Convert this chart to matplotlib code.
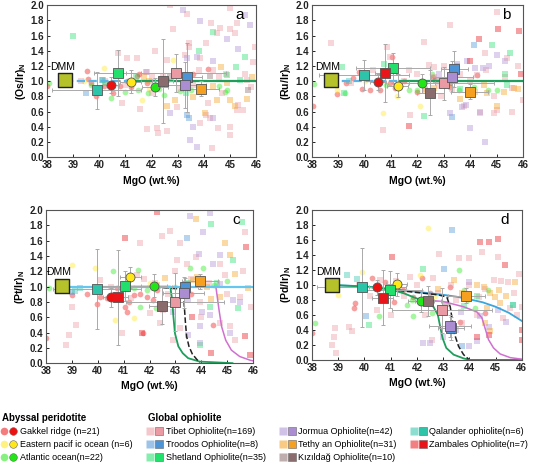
import matplotlib
matplotlib.use("Agg")
import matplotlib.pyplot as plt
from matplotlib.lines import Line2D
from matplotlib.legend_handler import HandlerTuple

plt.rcParams['font.family'] = ['Liberation Sans', 'DejaVu Sans']
plt.rcParams['mathtext.fontset'] = 'custom'
plt.rcParams['mathtext.bf'] = 'Liberation Sans:bold'
plt.rcParams['mathtext.rm'] = 'Liberation Sans'

# groups (order is shared by all mean lists below)
groups = ['gakkel', 'epr', 'atlantic', 'tibet', 'troodos', 'shetland',
          'jormua', 'tethyan', 'kizildag', 'qalander', 'zambales']
group_labels = ['Gakkel ridge (n=21)', 'Eastern pacif ic ocean (n=6)', 'Atlantic ocean(n=22)',
                'Tibet Ophiolite(n=169)', 'Troodos Ophiolite(n=8)', 'Shetland Ophiolite(n=35)',
                'Jormua Ophiolite(n=42)', 'Tethy an Ophiolite(n=31)', 'Kızıldağ Ophiolite(n=10)',
                'Qalander ophiolite(n=6)', 'Zambales Ophiolite(n=7)']
group_colors = ['#ee1111', '#ffe81a', '#22e615', '#ea9aa2', '#4d94d6', '#22e06c',
                '#ab8ed2', '#f5a020', '#8a6c6c', '#2ec4aa', '#e8161b']
group_markers = ['o', 'o', 'o', 's', 's', 's', 's', 's', 's', 's', 's']

dmm_x = [38.7, 38.72, 38.6, 38.76]
dmm_y = [1.01, 1.01, 1.01, 1.0]

# ---- panel a : (Os/Ir)N ----
a_tibet = [(42.71, 2.0), (43.34, 1.88), (44.26, 1.76), (44.62, 1.70), (45.0, 1.68), (45.19, 1.63),
           (45.26, 1.76), (45.0, 1.96), (45.96, 1.45), (45.58, 1.1), (44.49, 1.63), (44.1, 1.5),
           (43.43, 1.5), (42.83, 1.69), (40.73, 1.37), (41.43, 1.3), (41.05, 1.31), (42.13, 1.39),
           (42.58, 1.28), (42.45, 1.06), (42.0, 1.06), (41.81, 1.12), (43.85, 1.3), (44.36, 1.15),
           (44.87, 1.1), (45.64, 1.02), (44.17, 0.71), (44.1, 0.56), (44.24, 0.51), (45.0, 0.4),
           (45.0, 0.29), (44.56, 0.38), (43.85, 0.45), (42.2, 0.38), (42.26, 0.32), (42.58, 0.34),
           (41.81, 0.37), (44.3, 0.12), (45.26, 0.62), (45.32, 0.69), (45.5, 0.62), (41.56, 0.64),
           (40.86, 0.71), (42.96, 0.66), (43.1, 0.9), (43.6, 0.95), (41.0, 0.95), (40.2, 1.0),
           (39.3, 1.0), (43.45, 1.45), (44.6, 1.05), (45.8, 0.92), (45.9, 1.25), (43.8, 1.15),
           (42.9, 1.1), (43.3, 1.35), (42.0, 0.85), (44.7, 0.85)]
a_gakkel = [(38.0, 0.93), (39.54, 1.13), (39.55, 1.03), (39.87, 0.8), (40.54, 0.85), (40.18, 0.94),
            (41.46, 1.07), (41.53, 1.09), (41.81, 0.97), (42.2, 0.92), (43.6, 1.09), (44.17, 1.16),
            (41.05, 1.0), (39.7, 0.97), (40.8, 0.93), (41.2, 0.92), (42.6, 1.02), (43.2, 0.96)]
a_epr = [(40.19, 1.17), (42.83, 1.28), (41.62, 0.75), (39.4, 1.0), (41.9, 0.9)]
a_atlantic = [(38.08, 0.98), (40.45, 0.78), (41.5, 0.88), (41.88, 0.84), (42.49, 0.82), (43.5, 0.88),
              (44.91, 0.88), (44.6, 0.93), (43.8, 0.92), (39.7, 0.95), (41.0, 0.86), (42.3, 0.9),
              (43.1, 0.87), (44.8, 0.86)]
a_shetland = [(39.0, 1.59), (44.36, 1.64), (43.83, 1.39), (45.23, 1.19), (45.58, 1.32), (44.88, 1.08),
              (45.39, 1.02), (43.32, 0.85), (41.4, 1.05), (40.2, 0.98)]
a_jormua = [(43.19, 1.94), (43.85, 1.79), (45.77, 1.74), (45.58, 1.87), (44.88, 1.56), (44.36, 1.26),
            (43.75, 1.32), (43.73, 0.14), (43.47, 0.23), (44.36, 0.51), (42.71, 0.58), (43.6, 0.4),
            (41.8, 1.12), (43.35, 1.3), (45.3, 1.42)]
a_tethyan = [(42.9, 0.75), (42.58, 0.67), (44.49, 0.75), (45.0, 0.75), (44.05, 0.58), (45.64, 0.77),
             (45.19, 0.67), (45.83, 1.06), (44.68, 1.19), (44.36, 0.93), (41.9, 1.0), (43.6, 0.79),
             (44.9, 0.97), (41.7, 1.05)]
a_troodos = [(43.34, 0.55), (43.45, 0.52), (40.1, 1.02), (39.5, 0.84)]
a_kizildag = [(45.7, 0.88), (44.24, 1.07), (42.7, 1.05)]
a_qalander = [(40.16, 1.02), (39.9, 0.84)]
a_zambales = []

a_mean_x = [40.45, 41.2, 42.12, 42.94, 43.34, 40.7, 43.28, 43.9, 42.43, 39.9, None]
a_mean_y = [0.95, 0.99, 0.92, 1.11, 1.05, 1.11, 0.95, 0.9, 1.0, 0.88, None]
a_xerr = [0.3, 0.4, 0.5, 1.9, 0.6, 0.9, 0.8, 0.7, 0.4, 1.7, None]
a_yerr = [0.1, 0.15, 0.12, 0.25, 0.45, 0.3, 0.3, 0.1, 0.55, 0.24, None]

a_blue_x = [38.7, 41.3]
a_blue_y = [1.0, 1.0]
a_green_x = [41.3, 46.0]
a_green_y = [1.0, 1.0]

# ---- panel b : (Ru/Ir)N ----
b_tibet = [(38.73, 1.5), (40.84, 1.45), (42.24, 1.52), (40.97, 1.32), (42.61, 1.19), (43.25, 1.74),
           (44.57, 1.37), (45.02, 1.91), (46.0, 0.75), (45.59, 0.91), (45.4, 1.3), (44.26, 1.08),
           (41.67, 1.15), (41.73, 0.56), (40.69, 0.36), (44.38, 0.58), (44.89, 0.58), (45.02, 0.62),
           (43.75, 0.67), (42.42, 1.21), (42.61, 1.06), (43.0, 1.2), (43.6, 1.1), (44.0, 1.0),
           (42.3, 0.9), (41.2, 1.2), (40.3, 1.15), (42.8, 0.93), (45.8, 1.2), (45.3, 1.05),
           (44.9, 0.8), (43.3, 0.9), (42.0, 1.1), (41.5, 1.0), (39.5, 0.98), (42.9, 0.8),
           (44.6, 1.15), (45.6, 0.6)]
b_gakkel = [(38.04, 0.67), (38.95, 0.83), (39.55, 1.04), (39.77, 1.12), (39.9, 0.9), (40.21, 0.89),
            (40.59, 0.89), (41.16, 0.91), (40.97, 0.97), (41.98, 0.86), (43.25, 0.92), (41.03, 1.32),
            (44.26, 1.08), (42.6, 1.05), (41.5, 1.0), (39.3, 0.98)]
b_epr = [(38.95, 0.88), (40.69, 0.58), (42.11, 0.67), (41.23, 0.8), (40.0, 1.0)]
b_atlantic = [(38.09, 0.96), (39.26, 0.85), (43.56, 0.88), (44.13, 0.92), (44.66, 0.88), (45.02, 0.89),
              (41.67, 0.89), (42.55, 1.1), (42.0, 0.88), (43.0, 0.95), (40.8, 0.95)]
b_shetland = [(39.14, 1.19), (40.72, 1.23), (44.83, 1.47), (45.33, 1.1), (45.52, 1.37), (45.4, 0.95),
              (42.24, 0.54), (39.2, 0.84), (43.6, 0.9)]
b_jormua = [(43.88, 1.26), (44.19, 1.17), (44.49, 1.17), (45.02, 1.34), (45.33, 1.26), (43.5, 1.23),
            (43.69, 0.66), (43.84, 0.69), (43.98, 0.38), (44.36, 0.59), (44.55, 0.2), (43.25, 0.58),
            (42.8, 1.1), (44.7, 1.2)]
b_tethyan = [(43.62, 0.77), (44.19, 0.86), (44.64, 0.84), (45.02, 0.67), (45.27, 0.86), (45.65, 0.91),
             (44.51, 0.95), (42.61, 0.91), (42.3, 0.88), (45.8, 0.9), (43.2, 0.95)]
b_troodos = [(43.31, 0.53), (44.16, 1.47), (43.5, 1.2)]
b_kizildag = [(43.2, 0.98), (42.7, 1.0)]
b_qalander = [(39.4, 1.0), (40.1, 1.05)]
b_zambales = [(44.0, 1.26), (44.32, 1.56), (45.04, 1.69), (45.84, 1.66), (45.94, 1.1), (41.67, 0.41)]

b_mean_x = [40.5, 41.25, 42.17, 42.99, 43.4, 41.07, 43.31, 43.98, 42.49, 39.98, 40.78]
b_mean_y = [0.99, 0.94, 0.97, 0.97, 1.16, 1.17, 1.06, 0.86, 0.85, 1.08, 1.11]
b_xerr = [0.3, 0.4, 0.5, 1.9, 0.5, 1.4, 0.8, 0.7, 0.5, 1.7, 0.4]
b_yerr = [0.1, 0.15, 0.12, 0.22, 0.24, 0.2, 0.2, 0.1, 0.3, 0.2, 0.38]

b_blue_x = [38.7, 41.3]
b_blue_y = [1.0, 1.0]
b_green_x = [41.3, 46.0]
b_green_y = [1.0, 1.0]

# ---- panel c : (Pt/Ir)N ----
c_tibet = [(41.63, 1.57), (42.47, 1.66), (42.79, 1.73), (43.17, 1.57), (45.68, 1.72), (44.71, 1.3),
           (43.81, 1.39), (43.43, 1.3), (43.04, 1.35), (40.09, 1.09), (40.67, 0.89), (38.87, 0.37),
           (38.78, 0.24), (39.0, 0.74), (39.16, 0.5), (40.93, 0.39), (42.4, 0.52), (42.92, 0.3),
           (43.17, 0.46), (43.94, 0.8), (44.71, 0.52), (45.1, 0.48), (45.93, 0.74), (45.48, 0.87),
           (42.2, 1.05), (41.8, 1.1), (42.7, 0.9), (43.6, 1.1), (44.3, 1.05), (45.0, 0.9),
           (45.6, 1.2), (41.3, 0.85), (42.5, 0.7), (44.0, 0.6), (45.3, 0.3), (41.5, 1.15),
           (44.9, 1.15), (43.0, 1.2), (42.0, 0.65), (40.5, 1.0)]
c_gakkel = [(38.0, 0.33), (39.0, 0.89), (39.6, 0.91), (39.96, 0.78), (40.09, 0.87), (40.35, 0.85),
            (40.73, 0.98), (41.06, 0.74), (41.38, 0.89), (41.63, 0.91), (41.89, 0.87), (42.15, 0.83),
            (41.12, 0.67), (41.76, 0.39), (44.46, 0.5), (43.6, 0.9), (41.2, 0.8), (42.3, 0.95)]
c_epr = [(39.0, 1.28), (39.9, 1.24), (40.67, 0.57), (41.38, 0.59), (42.0, 1.05)]
c_atlantic = [(38.13, 0.98), (40.57, 1.2), (41.57, 1.22), (41.63, 0.74), (42.24, 0.72), (43.56, 1.24),
              (44.07, 1.24), (44.97, 1.07), (41.38, 0.98), (41.9, 0.95), (43.0, 1.0), (44.5, 1.02)]
c_shetland = [(44.39, 1.82), (45.57, 1.85), (43.94, 0.24), (44.33, 0.74), (45.42, 0.72), (45.23, 1.35),
              (44.6, 1.05), (43.5, 1.05)]
c_jormua = [(43.56, 1.93), (44.35, 1.96), (44.07, 1.72), (44.71, 1.41), (44.46, 1.3), (43.92, 1.43),
            (44.71, 1.04), (43.49, 0.83), (43.94, 0.48), (44.01, 0.67), (44.35, 0.63), (45.23, 0.83),
            (43.49, 0.37), (43.94, 0.26), (42.92, 0.67), (45.1, 0.4), (45.5, 0.8)]
c_tethyan = [(43.79, 1.89), (44.9, 1.57), (45.1, 1.41), (45.29, 1.17), (45.8, 0.98), (44.71, 0.87),
             (44.39, 0.84), (43.69, 1.09), (42.6, 1.11), (43.82, 1.13), (42.3, 1.02), (44.2, 1.0)]
c_troodos = [(43.44, 1.63), (39.0, 0.93)]
c_kizildag = [(42.9, 0.8), (43.4, 0.95)]
c_qalander = [(39.13, 0.94), (39.3, 0.98)]
c_zambales = [(42.27, 1.97), (41.06, 1.64), (45.74, 1.52), (43.62, 0.61), (44.39, 0.13), (45.68, 0.35),
              (45.87, 0.11), (41.7, 0.39)]

c_mean_x = [40.52, 41.25, 42.16, 42.98, 43.38, 41.06, 43.31, 43.94, 42.49, 39.96, 40.77]
c_mean_y = [0.86, 1.12, 1.01, 0.8, 0.99, 1.01, 0.92, 1.07, 0.75, 0.97, 0.86]
c_xerr = [0.3, 0.4, 0.5, 1.9, 0.5, 1.1, 0.8, 0.7, 0.5, 1.7, 0.4]
c_yerr = [0.12, 0.14, 0.15, 0.38, 0.12, 0.2, 0.2, 0.1, 0.24, 0.52, 0.62]

c_blue_x = [38.7, 46.0]
c_blue_y = [1.0, 1.0]
c_green_x = [41.0, 42.8, 42.87, 42.92, 42.98, 43.11, 43.28, 43.49, 43.94, 44.59, 45.2]
c_green_y = [1.0, 1.0, 0.83, 0.61, 0.39, 0.22, 0.13, 0.065, 0.02, 0.01, 0.0]
c_black_x = [41.9, 43.3, 43.34, 43.38, 43.43, 43.52, 43.65, 43.82, 43.94]
c_black_y = [1.0, 0.97, 0.75, 0.55, 0.35, 0.22, 0.12, 0.05, 0.01]
c_purple_x = [44.3, 44.56, 44.62, 44.68, 44.78, 44.94, 45.16, 45.48, 45.87, 46.0]
c_purple_y = [1.0, 1.0, 0.85, 0.7, 0.48, 0.3, 0.17, 0.087, 0.04, 0.03]

# ---- panel d : (Pd/Ir)N ----
d_tibet = [(38.76, 0.2), (38.83, 0.31), (38.89, 0.42), (38.93, 0.09), (39.43, 0.44), (39.52, 0.38),
           (40.48, 0.67), (41.75, 1.11), (42.83, 1.42), (43.61, 1.36), (44.0, 1.36), (44.48, 1.44),
           (45.09, 1.38), (45.49, 1.04), (46.0, 0.71), (44.92, 1.07), (42.57, 0.27), (43.71, 0.49),
           (44.35, 0.84), (45.56, 0.69), (45.3, 0.56), (45.81, 0.6), (40.6, 1.07), (41.2, 1.05),
           (42.0, 1.0), (42.6, 1.1), (43.3, 1.0), (44.0, 1.0), (44.6, 0.95), (45.2, 1.05),
           (45.7, 0.9), (41.5, 0.85), (42.3, 0.6), (43.0, 0.7), (43.5, 0.8), (44.3, 0.6),
           (40.2, 0.85), (39.8, 1.0), (41.0, 0.6), (42.8, 0.9), (45.9, 1.15)]
d_gakkel = [(38.0, 0.36), (39.65, 0.76), (39.62, 0.69), (40.29, 1.09), (40.79, 1.04), (41.11, 0.78),
            (41.49, 0.94), (41.87, 0.84), (43.27, 0.98), (43.65, 0.51), (44.58, 0.62), (40.0, 0.95),
            (42.2, 1.1), (42.5, 0.9), (41.3, 1.0)]
d_epr = [(39.9, 1.18), (38.98, 0.87), (42.13, 1.13), (42.44, 1.76), (42.7, 0.85)]
d_atlantic = [(38.13, 0.49), (40.54, 0.59), (41.87, 0.58), (41.62, 0.73), (42.57, 0.62), (43.59, 1.2),
              (43.78, 0.93), (44.71, 0.94), (43.9, 0.8), (41.8, 0.8), (44.2, 0.7)]
d_shetland = [(42.25, 1.21), (40.16, 0.47), (45.68, 0.73), (44.3, 0.85), (43.8, 0.72)]
d_jormua = [(43.97, 1.04), (43.69, 0.64), (44.0, 0.18), (44.75, 0.44), (45.09, 0.67), (44.41, 0.58),
            (42.25, 0.22), (42.51, 0.22), (43.0, 0.3), (44.3, 0.25), (45.4, 0.5), (43.5, 0.4)]
d_tethyan = [(44.29, 1.0), (44.54, 0.98), (44.79, 0.89), (45.11, 0.93), (45.75, 1.04), (44.98, 0.84),
             (45.17, 0.76), (44.67, 0.69), (44.6, 0.49), (44.79, 0.38), (43.4, 1.07), (42.8, 0.95),
             (43.7, 0.9), (45.4, 0.85)]
d_troodos = [(43.02, 1.22), (43.33, 1.73), (43.71, 0.19), (40.07, 0.58)]
d_kizildag = [(43.1, 0.75)]
d_qalander = [(39.33, 1.13), (39.71, 1.08), (45.68, 0.73)]
d_zambales = [(44.41, 1.58), (44.75, 1.58), (45.09, 1.62), (45.34, 1.27), (46.0, 0.4), (46.0, 0.27),
              (44.75, 0.33), (44.29, 0.31), (41.05, 1.38)]

d_mean_x = [40.48, 41.24, 42.15, 42.95, 43.3, 40.98, 43.27, 43.88, 42.41, 39.9, 40.7]
d_mean_y = [0.97, 1.01, 0.79, 0.66, 0.42, 0.94, 0.45, 0.86, 0.79, 0.97, 0.83]
d_xerr = [0.3, 0.4, 0.5, 1.9, 0.5, 1.2, 0.8, 0.7, 0.5, 1.7, 0.4]
d_yerr = [0.1, 0.15, 0.15, 0.3, 0.15, 0.25, 0.15, 0.1, 0.2, 0.53, 0.37]

d_blue_x = [38.76, 39.5, 40.5, 41.5, 42.5, 43.0, 43.5, 44.0, 44.5, 45.0, 45.5, 46.0]
d_blue_y = [1.0, 0.99, 0.97, 0.93, 0.89, 0.87, 0.845, 0.81, 0.77, 0.71, 0.63, 0.52]
d_green_x = [38.76, 40.0, 41.0, 41.5, 42.0, 42.38, 42.63, 42.8, 42.89, 42.98, 43.12, 43.4, 43.78, 44.03, 46.0]
d_green_y = [1.0, 0.98, 0.94, 0.89, 0.82, 0.78, 0.71, 0.6, 0.44, 0.29, 0.16, 0.07, 0.02, 0.0, 0.0]
d_black_x = [41.0, 42.0, 42.8, 43.14, 43.27, 43.35, 43.42, 43.59, 43.78, 43.97]
d_black_y = [0.94, 0.9, 0.87, 0.84, 0.71, 0.53, 0.36, 0.18, 0.07, 0.01]
d_purple_x = [42.3, 43.0, 43.78, 44.29, 44.48, 44.6, 44.73, 44.92, 45.17, 45.56, 46.0]
d_purple_y = [0.8, 0.78, 0.71, 0.64, 0.56, 0.42, 0.27, 0.16, 0.08, 0.03, 0.01]

ylabels = [r'(Os/Ir)$_\mathbf{N}$', r'(Ru/Ir)$_\mathbf{N}$', r'(Pt/Ir)$_\mathbf{N}$', r'(Pd/Ir)$_\mathbf{N}$']
letters = ['a', 'b', 'c', 'd']

BLUE = '#5bb5e8'
GREEN = '#1f9e5c'
PURPLE = '#d070d0'

panels = [
    dict(bg=[a_gakkel, a_epr, a_atlantic, a_tibet, a_troodos, a_shetland, a_jormua,
             a_tethyan, a_kizildag, a_qalander, a_zambales],
         mx=a_mean_x, my=a_mean_y, xe=a_xerr, ye=a_yerr,
         lines=[(a_blue_x, a_blue_y, BLUE, '--', 1.6, 2), (a_green_x, a_green_y, GREEN, '-', 1.6, 2)]),
    dict(bg=[b_gakkel, b_epr, b_atlantic, b_tibet, b_troodos, b_shetland, b_jormua,
             b_tethyan, b_kizildag, b_qalander, b_zambales],
         mx=b_mean_x, my=b_mean_y, xe=b_xerr, ye=b_yerr,
         lines=[(b_blue_x, b_blue_y, BLUE, '--', 1.6, 2), (b_green_x, b_green_y, GREEN, '-', 1.6, 2)]),
    dict(bg=[c_gakkel, c_epr, c_atlantic, c_tibet, c_troodos, c_shetland, c_jormua,
             c_tethyan, c_kizildag, c_qalander, c_zambales],
         mx=c_mean_x, my=c_mean_y, xe=c_xerr, ye=c_yerr,
         lines=[(c_green_x, c_green_y, GREEN, '-', 1.3, 2), (c_black_x, c_black_y, '#222222', '--', 1.1, 2.1),
                (c_purple_x, c_purple_y, PURPLE, '-', 1.1, 2), (c_blue_x, c_blue_y, '#66c6ee', '-', 1.6, 2.2)]),
    dict(bg=[d_gakkel, d_epr, d_atlantic, d_tibet, d_troodos, d_shetland, d_jormua,
             d_tethyan, d_kizildag, d_qalander, d_zambales],
         mx=d_mean_x, my=d_mean_y, xe=d_xerr, ye=d_yerr,
         lines=[(d_blue_x, d_blue_y, '#3ba6dc', '-', 1.3, 2), (d_green_x, d_green_y, GREEN, '-', 1.3, 2),
                (d_black_x, d_black_y, '#222222', '--', 1.1, 2.1), (d_purple_x, d_purple_y, PURPLE, '-', 1.1, 2)]),
]

rects = [[0.085, 0.662, 0.377, 0.327],
         [0.563, 0.662, 0.381, 0.327],
         [0.083, 0.219, 0.374, 0.329],
         [0.563, 0.226, 0.379, 0.322]]

fig = plt.figure(figsize=(5.54, 4.65), dpi=100)

for i, p in enumerate(panels):
    ax = fig.add_axes(rects[i])
    # faint individual samples
    for g, pts in enumerate(p['bg']):
        if not pts:
            continue
        xs = [q[0] for q in pts]
        ys = [q[1] for q in pts]
        ax.scatter(xs, ys, s=17, marker=group_markers[g], color=group_colors[g],
                   alpha=0.4, linewidths=0, zorder=1)
    # model curves
    for lx, ly, col, ls, lw, z in p['lines']:
        ax.plot(lx, ly, color=col, ls=ls, lw=lw, zorder=z)
    # group means with error bars
    for g in range(len(groups)):
        if p['mx'][g] is None:
            continue
        ax.errorbar(p['mx'][g], p['my'][g], xerr=p['xe'][g], yerr=p['ye'][g], fmt='none',
                    ecolor='#a9a9a9', elinewidth=0.7, capsize=1.5, capthick=0.7, zorder=3)
    for g in range(len(groups)):
        if p['mx'][g] is None:
            continue
        sz = 42 if group_markers[g] == 'o' else 48
        ax.scatter(p['mx'][g], p['my'][g], s=sz, marker=group_markers[g], color=group_colors[g],
                   edgecolors='#555555', linewidths=0.6, zorder=4)
    # DMM
    ax.scatter(dmm_x[i], dmm_y[i], s=95, marker='s', color='#b5c22a', edgecolors='#222222',
               linewidths=1.0, zorder=5)
    ax.text(dmm_x[i] - 0.6, dmm_y[i] + 0.11, 'DMM', fontsize=7.5, va='bottom', ha='left', zorder=6)

    ax.set_xlim(38, 46)
    ax.set_ylim(0, 2.0)
    ax.set_xticks(range(38, 47))
    ax.set_yticks([k / 10 for k in range(0, 21, 2)])
    ax.set_yticklabels(['%.1f' % (k / 10) for k in range(0, 21, 2)])
    ax.tick_params(direction='in', length=2.5, width=0.7, labelsize=7, pad=2, colors='#222222')
    for lab in ax.get_xticklabels() + ax.get_yticklabels():
        lab.set_fontweight('bold')
    for sp in ax.spines.values():
        sp.set_color('#555555')
        sp.set_linewidth(0.8)
    ax.set_xlabel('MgO (wt.%)', fontsize=7.5, fontweight='bold', labelpad=4)
    ax.set_ylabel(ylabels[i], fontsize=7.5, fontweight='bold', labelpad=2)
    ax.text(0.92, 0.935, letters[i], transform=ax.transAxes, fontsize=11, ha='center', va='center')


def pair(g):
    light = Line2D([], [], ls='none', marker=group_markers[g], ms=5.5, mfc=group_colors[g],
                   mec='none', alpha=0.55)
    solid = Line2D([], [], ls='none', marker=group_markers[g], ms=5.5, mfc=group_colors[g],
                   mec='#666666', mew=0.4)
    return (light, solid)


common = dict(loc='upper left', frameon=False, fontsize=6.5, alignment='left',
              title_fontproperties={'weight': 'bold', 'size': 7},
              handler_map={tuple: HandlerTuple(ndivide=None, pad=0.5)},
              handlelength=1.5, handletextpad=0.5, labelspacing=0.45,
              borderpad=0, borderaxespad=0)

fig.legend([pair(g) for g in range(3)], group_labels[:3], title='Abyssal peridotite',
           bbox_to_anchor=(0.003, 0.112), **common)
fig.legend([pair(g) for g in range(3, 11)], group_labels[3:], title='Global ophiolite',
           bbox_to_anchor=(0.267, 0.112), ncol=3, columnspacing=1.6, **common)

fig.savefig('out.png', dpi=100)
